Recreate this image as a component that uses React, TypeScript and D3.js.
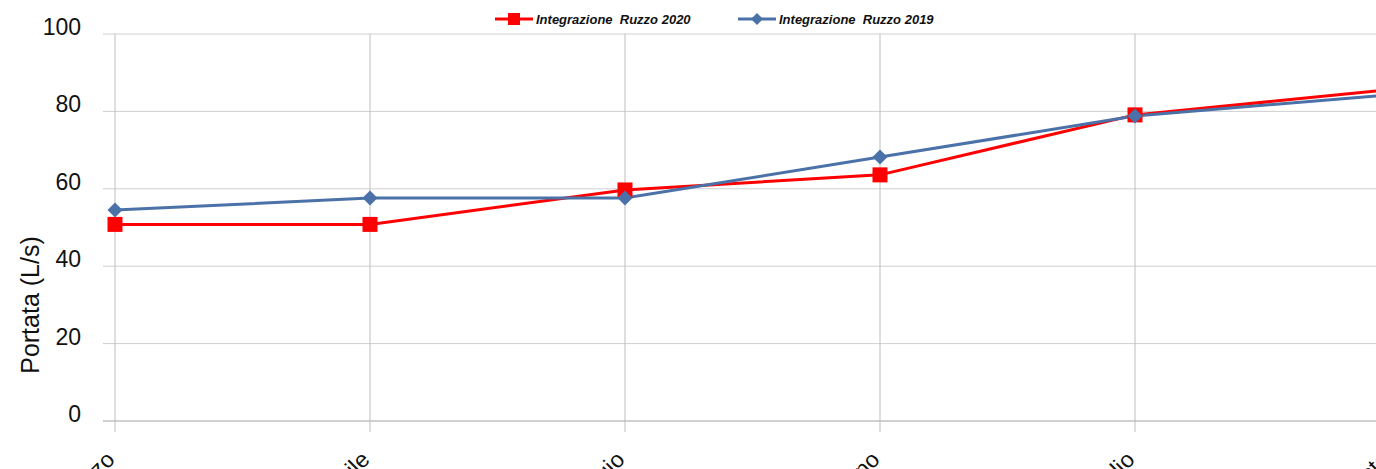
import React from "react";
import * as d3 from "d3";

const categories = ["marzo", "aprile", "maggio", "giugno", "luglio", "agosto"];
const series2020 = [50.8, 50.8, 59.7, 63.6, 79.1, 85.6];
const series2019 = [54.5, 57.6, 57.6, 68.2, 78.8, 84.3];
const yTicks = [0, 20, 40, 60, 80, 100];

const W = 1376;
const H = 469;
const FONT = "'Liberation Sans', Arial, sans-serif";

export default function App() {
  const x = d3.scalePoint<string>().domain(categories).range([115, 1390]);
  const y = d3.scaleLinear().domain([0, 100]).range([421, 34]);
  const line = d3
    .line<number>()
    .x((_, i) => x(categories[i]) as number)
    .y((d) => y(d));
  const red = "#ff0000";
  const blue = "#4a72a8";
  return (
    <svg
      width={W}
      height={H}
      style={{ position: "absolute", left: 0, top: 0, display: "block" }}
    >
      <defs>
        <clipPath id="plot">
          <rect x={100} y={0} width={W - 100} height={440} />
        </clipPath>
      </defs>
      <rect x={0} y={0} width={W} height={H} fill="#fff" />
      {yTicks.map((t) => (
        <line
          key={"h" + t}
          x1={103}
          x2={W}
          y1={y(t)}
          y2={y(t)}
          stroke={t === 0 ? "#d0d0d0" : "#cfcfcf"}
          strokeWidth={t === 0 ? 2 : 1}
        />
      ))}
      {categories.map((c) => (
        <line
          key={"v" + c}
          x1={x(c)}
          x2={x(c)}
          y1={34}
          y2={432}
          stroke="#bdbdbd"
          strokeWidth={1}
        />
      ))}
      {yTicks.map((t) => (
        <text
          key={"yl" + t}
          x={81}
          y={y(t) - 7}
          dy="0.35em"
          textAnchor="end"
          fontFamily={FONT}
          fontSize={23}
          fill="#111"
        >
          {t}
        </text>
      ))}
      <text
        transform="translate(39,305) rotate(-90)"
        textAnchor="middle"
        fontFamily={FONT}
        fontSize={25}
        fill="#111"
      >
        Portata (L/s)
      </text>
      {categories.map((c) => (
        <text
          key={"xl" + c}
          transform={`translate(${(x(c) as number) + 1},461) rotate(-45)`}
          textAnchor="end"
          fontFamily={FONT}
          fontSize={23}
          fill="#111"
        >
          {c}
        </text>
      ))}
      <g clipPath="url(#plot)">
        <path d={line(series2020) || ""} fill="none" stroke={red} strokeWidth={3} />
        <path d={line(series2019) || ""} fill="none" stroke={blue} strokeWidth={3} />
        {series2020.map((v, i) => (
          <rect
            key={"r" + i}
            x={(x(categories[i]) as number) - 7.5}
            y={y(v) - 7.5}
            width={15}
            height={15}
            fill={red}
          />
        ))}
        {series2019.map((v, i) => {
          const cx = x(categories[i]) as number;
          const cy = y(v);
          return (
            <path
              key={"d" + i}
              d={`M${cx},${cy - 7.5}L${cx + 7.5},${cy}L${cx},${cy + 7.5}L${cx - 7.5},${cy}Z`}
              fill={blue}
            />
          );
        })}
      </g>
      <g>
        <line x1={495} x2={533} y1={19} y2={19} stroke={red} strokeWidth={3} />
        <rect x={508} y={13} width={12} height={12} fill={red} />
        <text
          x={536}
          y={23.5}
          fontFamily={FONT}
          fontSize={13}
          fontWeight="bold"
          fontStyle="italic"
          fill="#111"
          style={{ whiteSpace: "pre" }}
        >
          {"Integrazione  Ruzzo 2020"}
        </text>
        <line x1={738} x2={776} y1={19} y2={19} stroke={blue} strokeWidth={3} />
        <path d="M757,13L763,19L757,25L751,19Z" fill={blue} />
        <text
          x={779}
          y={23.5}
          fontFamily={FONT}
          fontSize={13}
          fontWeight="bold"
          fontStyle="italic"
          fill="#111"
          style={{ whiteSpace: "pre" }}
        >
          {"Integrazione  Ruzzo 2019"}
        </text>
      </g>
    </svg>
  );
}
